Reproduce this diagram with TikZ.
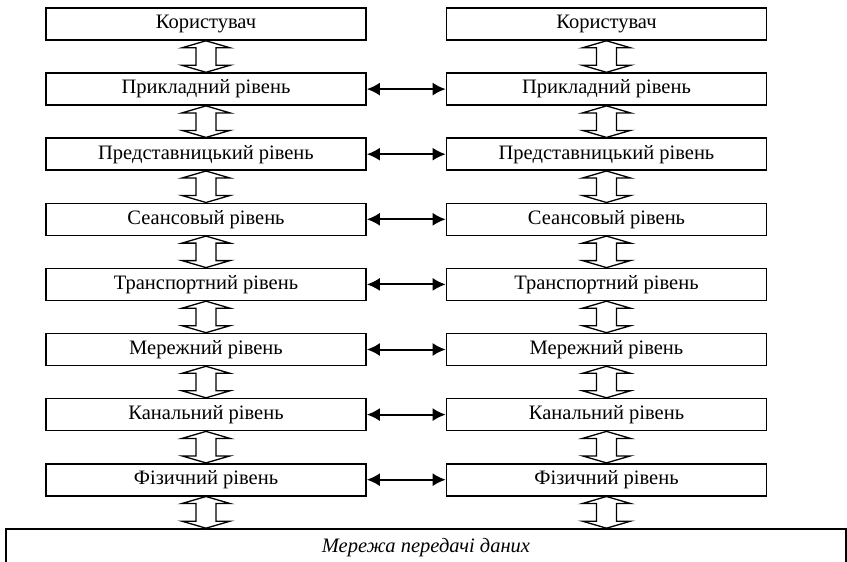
\documentclass[tikz,border=0pt]{standalone}
\usepackage{fontspec}
\setmainfont{Liberation Serif}
\usetikzlibrary{arrows.meta,calc}

% hollow two-headed block arrow from the bottom of #1 to the top of #2
\newcommand\layerlink[2]{%
  \draw[blk] let \p1=(#1.south), \p2=(#2.north) in
    (\x1,\y1) -- (\x1+24pt,\y1-7pt) -- (\x1+10pt,\y1-7pt)
    -- (\x1+10pt,\y2+7pt) -- (\x1+24pt,\y2+7pt) -- (\x1,\y2)
    -- (\x1-24pt,\y2+7pt) -- (\x1-10pt,\y2+7pt)
    -- (\x1-10pt,\y1-7pt) -- (\x1-24pt,\y1-7pt) -- cycle;}

\begin{document}
\begin{tikzpicture}[x=1pt,y=-1pt,
  layer/.style={draw,line width=1.6pt,minimum width=320pt,minimum height=32pt,
    inner sep=0pt,font=\fontsize{20.5}{22}\selectfont},
  peer/.style={{Latex[length=13pt,width=13pt]}-{Latex[length=13pt,width=13pt]},
    line width=2pt},
  blk/.style={draw,fill=white,line width=1.3pt,line join=miter}]
\useasboundingbox (0,0) rectangle (847,562);

% the two protocol stacks
\foreach \i/\t in {0/Користувач,1/Прикладний рівень,2/Представницький рівень,
    3/Сеансовый рівень,4/Транспортний рівень,5/Мережний рівень,
    6/Канальний рівень,7/Фізичний рівень} {
  \node[layer] (L\i) at (206,24+65.1*\i) {\t};
  \node[layer] (R\i) at (606.5,24+65.1*\i) {\t};
}

% transmission network
\node[draw,line width=1.6pt,minimum width=840pt,minimum height=38pt,inner sep=0pt,
  font=\fontsize{20.5}{22}\selectfont\itshape] (net) at (426,548) {Мережа передачі даних};

% vertical links inside each stack
\foreach \i [evaluate=\i as \j using int(\i+1)] in {0,...,6} {
  \layerlink{L\i}{L\j}
  \layerlink{R\i}{R\j}
}
\layerlink{L7}{net}
\layerlink{R7}{net}

% peer-to-peer links between matching layers
\foreach \i in {1,...,7} {
  \draw[peer] (L\i.east) -- (R\i.west);
}
\end{tikzpicture}
\end{document}
